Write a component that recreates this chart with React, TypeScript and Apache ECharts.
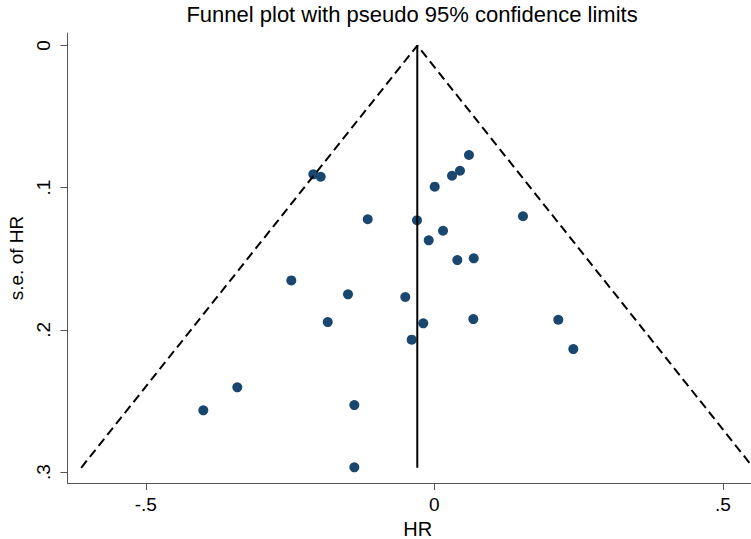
import React, { useEffect, useRef } from "react";
import * as echarts from "echarts";

// Study estimates (log hazard ratio) and their standard errors
const hrValues = [
  -0.2097, -0.1969, 0.0601, 0.0445, 0.0307, 0.0007, -0.1154, -0.03, 0.1537,
  0.0151, -0.0097, 0.0399, 0.0683, -0.2478, -0.1496, -0.0503, -0.1847,
  -0.0191, 0.0676, 0.2149, -0.0392, 0.2409, -0.3414, -0.4003, -0.1386,
  -0.1386,
];
const seValues = [
  0.0906, 0.0923, 0.077, 0.0881, 0.0916, 0.0993, 0.1222, 0.1229, 0.1201,
  0.1303, 0.137, 0.1509, 0.1497, 0.1652, 0.175, 0.1769, 0.1945, 0.1954,
  0.1924, 0.1929, 0.2069, 0.2135, 0.2404, 0.2566, 0.2529, 0.2967,
];

// Pseudo 95% confidence limits (funnel) and pooled estimate line
const funnelHR = [-0.612, -0.0295, 0.553];
const funnelSE = [0.297, 0, 0.297];
const pooledHR = [-0.0295, -0.0295];
const pooledSE = [0, 0.297];

const xTickValues = [-0.5, 0, 0.5];
const xTickLabels = ["-.5", "0", ".5"];
const yTickValues = [0, 0.1, 0.2, 0.3];
const yTickLabels = ["0", ".1", ".2", ".3"];

const titleText = "Funnel plot with pseudo 95% confidence limits";
const xName = "HR";
const yName = "s.e. of HR";

const FONT = '"Liberation Sans", Arial, sans-serif';

function lookup(values: number[], labels: string[], v: number): string {
  const i = values.findIndex((t) => Math.abs(t - v) < 1e-9);
  return i >= 0 ? labels[i] : "";
}

export default function App() {
  const ref = useRef<HTMLDivElement>(null);

  useEffect(() => {
    if (!ref.current) return;
    const chart = echarts.init(ref.current, undefined, { renderer: "svg" });
    const axisColor = "#555";
    chart.setOption({
      animation: false,
      backgroundColor: "#fff",
      textStyle: { fontFamily: FONT },
      title: {
        text: titleText,
        left: 412,
        top: 3,
        padding: 0,
        textAlign: "center",
        textStyle: { fontSize: 22, fontWeight: "normal", color: "#000", fontFamily: FONT },
      },
      grid: { left: 67.5, top: 33, right: 0, bottom: 56, outerBoundsMode: "none", containLabel: false },
      xAxis: {
        type: "value",
        min: -0.6357,
        max: 0.5783,
        splitLine: { show: false },
        axisLine: { show: true, onZero: false, lineStyle: { color: axisColor, width: 1 } },
        axisTick: { show: true, length: 7, customValues: xTickValues, lineStyle: { color: axisColor } },
        axisLabel: {
          customValues: xTickValues,
          formatter: (v: number) => lookup(xTickValues, xTickLabels, v),
          fontSize: 19,
          lineHeight: 19,
          color: "#000",
          margin: 12,
          fontFamily: FONT,
        },
        name: xName,
        nameLocation: "middle",
        nameGap: 26,
        nameTextStyle: { fontSize: 20, lineHeight: 20, color: "#000", fontFamily: FONT },
      },
      yAxis: {
        type: "value",
        inverse: true,
        min: -0.0088,
        max: 0.3077,
        splitLine: { show: false },
        axisLine: { show: true, onZero: false, lineStyle: { color: axisColor, width: 1 } },
        axisTick: { show: true, length: 7, customValues: yTickValues, lineStyle: { color: axisColor } },
        axisLabel: {
          customValues: yTickValues,
          formatter: (v: number) => lookup(yTickValues, yTickLabels, v),
          rotate: 90,
          fontSize: 19,
          color: "#000",
          margin: 15,
          fontFamily: FONT,
        },
        name: yName,
        nameLocation: "middle",
        nameGap: 33,
        nameTextStyle: { fontSize: 19, color: "#000", fontFamily: FONT },
      },
      series: [
        {
          type: "scatter",
          data: hrValues.map((x, i) => [x, seValues[i]]),
          symbol: "circle",
          symbolSize: 10,
          itemStyle: { color: "#1a476f", opacity: 1 },
          z: 2,
        },
        {
          type: "line",
          data: funnelHR.map((x, i) => [x, funnelSE[i]]),
          showSymbol: false,
          symbol: "none",
          lineStyle: { color: "#000", width: 2, type: [9, 5] },
          z: 3,
        },
        {
          type: "line",
          data: pooledHR.map((x, i) => [x, pooledSE[i]]),
          showSymbol: false,
          symbol: "none",
          lineStyle: { color: "#000", width: 2, type: "solid" },
          z: 3,
        },
      ],
    });
    return () => chart.dispose();
  }, []);

  return (
    <div
      style={{
        position: "fixed",
        left: 0,
        top: 0,
        width: 751,
        height: 539,
        overflow: "hidden",
        background: "#fff",
      }}
    >
      <div ref={ref} style={{ width: 768, height: 539 }} />
    </div>
  );
}
